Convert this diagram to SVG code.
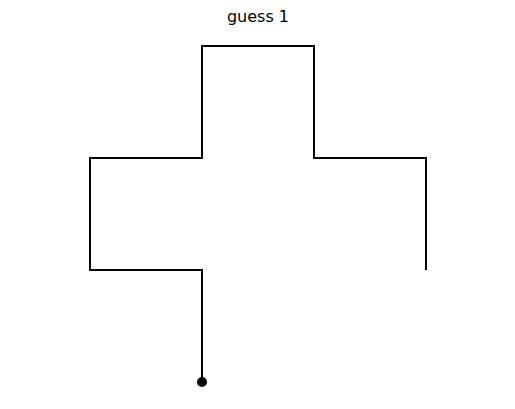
<svg xmlns="http://www.w3.org/2000/svg" width="515" height="409" viewBox="0 0 515 409">
<style>
.t{font-family:"DejaVu Sans",sans-serif;font-size:16px;fill:#000}
.p{fill:none;stroke:#000;stroke-width:2;stroke-linecap:butt;stroke-linejoin:miter}
</style>
<rect width="515" height="409" fill="#fff"/>
<text class="t" x="258" y="22" text-anchor="middle">guess 1</text>
<g id="connectors">
<path class="p" d="M202,382 V270 H90 V158 H202 V46 H314 V158 H426 V270"/>
</g>
<g id="start"><circle cx="202" cy="382" r="5" fill="#000"/></g>
</svg>
